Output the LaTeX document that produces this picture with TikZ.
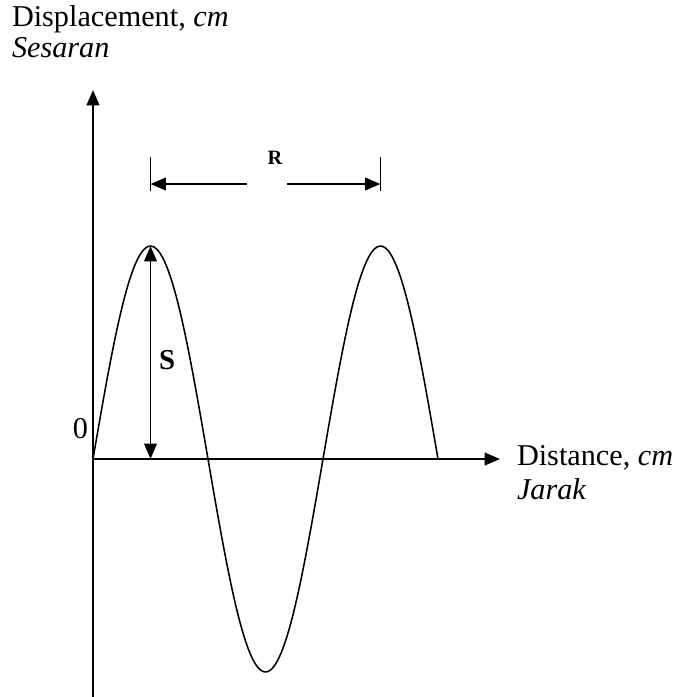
\documentclass[tikz,border=0pt]{standalone}
\usepackage{fontspec}
\setmainfont{Liberation Serif}
\usetikzlibrary{arrows.meta, positioning}

\begin{document}
\begin{tikzpicture}[
  x=0.025cm, y=-0.025cm,
  every node/.style={inner sep=0pt, outer sep=0pt, font=\fontsize{21.5}{26}\selectfont},
  axis/.style={line width=1.7pt, -{Triangle[length=11pt, width=9pt]}},
  wave/.style={line width=1.1pt},
  dimarr/.style={line width=1.4pt, -{Triangle[length=11pt, width=9pt]}},
  tick/.style={line width=0.8pt},
  boldlbl/.style={font=\fontsize{20.5}{24}\selectfont\bfseries},
  smallbold/.style={font=\fontsize{14.5}{17}\selectfont\bfseries},
]
\useasboundingbox (0,0) rectangle (682,697);

%% Axes
\coordinate (origin) at (93,459);
\coordinate (ybot)   at (93,697);
\coordinate (ytop)   at (93,90);
\coordinate (xend)   at (500,459);
\draw[axis] (ybot) -- (ytop);
\draw[axis] (origin) -- (xend);

%% Axis labels
\node[anchor=base west] (ylab)  at (12,26) {Displacement, \textit{cm}};
\node[anchor=base west] (ylab2) at (12,57) {\textit{Sesaran}};
\node[anchor=base west] (xlab)  at (517,465) {Distance, \textit{cm}};
\node[anchor=base west] (xlab2) at (517,499) {\textit{Jarak}};
\node[anchor=base east] (zero)  at (88,438) {0};

%% Wave
\draw[wave] plot[domain=93:438, samples=120, smooth] (\x, {459-213*sin((\x-93)/230*360)});

%% Wavelength R
\coordinate (peakA) at (150.5,246);
\coordinate (peakB) at (380.5,246);
\draw[tick] (150.5,157) -- (150.5,191);
\draw[tick] (380.5,157) -- (380.5,191);
\coordinate (rl) at (247,184);
\coordinate (rr) at (287,184);
\draw[dimarr] (rl) -- (150.5,184);
\draw[dimarr] (rr) -- (380.5,184);
\node[smallbold, anchor=base] (rlab) at (275,164) {R};

%% Amplitude S
\coordinate (sfoot) at (150.5,459);
\draw[dimarr, {Triangle[length=11pt, width=9pt]}-{Triangle[length=11pt, width=9pt]}] (peakA) -- (sfoot);
\node[boldlbl, anchor=base west] (slab) at (159,369) {S};

\end{tikzpicture}
\end{document}
